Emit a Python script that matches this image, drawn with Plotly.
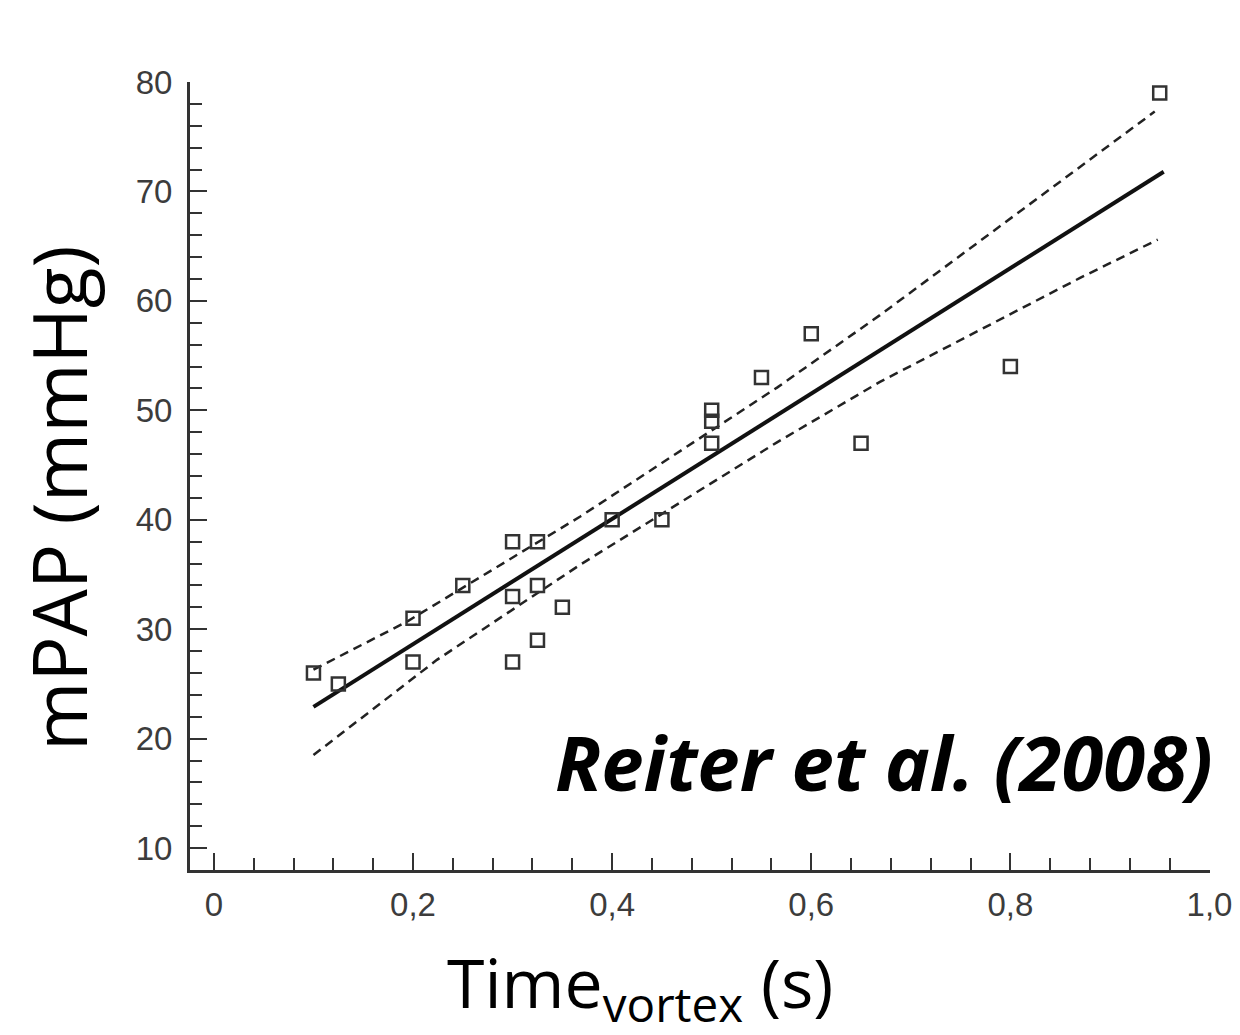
import plotly.graph_objects as go

# ---- data ----
time_vortex = [0.10, 0.125, 0.20, 0.20, 0.25, 0.30, 0.30, 0.30, 0.325, 0.325, 0.325,
               0.35, 0.40, 0.45, 0.50, 0.50, 0.50, 0.55, 0.60, 0.65, 0.80, 0.95]
mpap = [26, 25, 31, 27, 34, 38, 33, 27, 38, 34, 29,
        32, 40, 40, 50, 49, 47, 53, 57, 47, 54, 79]

fit_x = [0.10, 0.954]
fit_y = [22.9, 71.8]

upper_x = [0.10, 0.194, 0.368, 0.566, 0.669, 0.870, 0.945]
upper_y = [26.3, 30.7, 40.3, 52.1, 58.7, 72.3, 77.3]

lower_x = [0.10, 0.224, 0.368, 0.566, 0.669, 0.870, 0.948]
lower_y = [18.5, 27.2, 35.9, 47.1, 52.6, 62.1, 65.6]

x_tickvals = [0, 0.2, 0.4, 0.6, 0.8, 1.0]
x_ticktext = ["0", "0,2", "0,4", "0,6", "0,8", "1,0"]
y_tickvals = [10, 20, 30, 40, 50, 60, 70, 80]

# page body adds an 8px margin on every side; size the figure to fit without overflow
OFF = 8
W, H = 1240 - 2 * OFF, 1035 - 2 * OFF
L, R, T, B = 182, 22, 74, 157
pw, ph = W - L - R, H - T - B

def px_x(p):  # screen pixel -> paper x
    return (p - OFF - L) / pw

def px_y(p):  # screen pixel -> paper y
    return (H - B - (p - OFF)) / ph

fig = go.Figure()

dash_line = dict(color="#222222", width=2.5, dash="9px,6px")
fig.add_trace(go.Scatter(x=upper_x, y=upper_y, mode="lines", line=dash_line,
                         showlegend=False, hoverinfo="skip"))
fig.add_trace(go.Scatter(x=lower_x, y=lower_y, mode="lines", line=dash_line,
                         showlegend=False, hoverinfo="skip"))
fig.add_trace(go.Scatter(x=fit_x, y=fit_y, mode="lines",
                         line=dict(color="#111111", width=4),
                         showlegend=False, hoverinfo="skip"))
fig.add_trace(go.Scatter(x=time_vortex, y=mpap, mode="markers",
                         marker=dict(symbol="square-open", size=13, color="#333333",
                                     line=dict(width=2.5, color="#333333")),
                         showlegend=False))

axis_common = dict(
    showgrid=False, zeroline=False, showline=True, linecolor="#333333", linewidth=3,
    ticks="inside", tickcolor="#333333", tickwidth=2, ticklen=17,
    tickfont=dict(family="Liberation Sans, Arial, sans-serif", size=33, color="#3c3c3c"),
    mirror=False, automargin=False, ticklabeloverflow="allow",
)

fig.update_xaxes(range=[-0.024, 1.0005], tickvals=x_tickvals, ticktext=x_ticktext,
                 minor=dict(dtick=0.04, tick0=0, ticks="inside", ticklen=12,
                            tickwidth=2, tickcolor="#333333"),
                 ticklabelstandoff=3, **axis_common)
fig.update_yaxes(range=[8, 80], tickvals=y_tickvals,
                 minor=dict(dtick=2, tick0=0, ticks="inside", ticklen=12,
                            tickwidth=2, tickcolor="#333333"),
                 ticklabelstandoff=8, **axis_common)

fig.add_annotation(text="mPAP (mmHg)", xref="paper", yref="paper",
                   x=px_x(58), y=px_y(498), textangle=-90, showarrow=False,
                   xanchor="center", yanchor="middle",
                   font=dict(family="Open Sans, sans-serif", size=75, color="#000000"))
fig.add_annotation(text="Time<sub>vortex</sub> (s)", xref="paper", yref="paper",
                   x=px_x(640), y=px_y(985), showarrow=False,
                   xanchor="center", yanchor="middle",
                   font=dict(family="Open Sans, sans-serif", size=68, color="#000000"))
fig.add_annotation(text="<b><i>Reiter et al. (2008)</i></b>", xref="paper", yref="paper",
                   x=px_x(1215), y=px_y(761), showarrow=False,
                   xanchor="right", yanchor="middle",
                   font=dict(family="Open Sans, sans-serif", size=76, color="#000000"))

fig.update_layout(
    width=W, height=H,
    margin=dict(l=L, r=R, t=T, b=B, autoexpand=False),
    paper_bgcolor="white", plot_bgcolor="white",
    showlegend=False,
)

fig.write_html("out.html")
